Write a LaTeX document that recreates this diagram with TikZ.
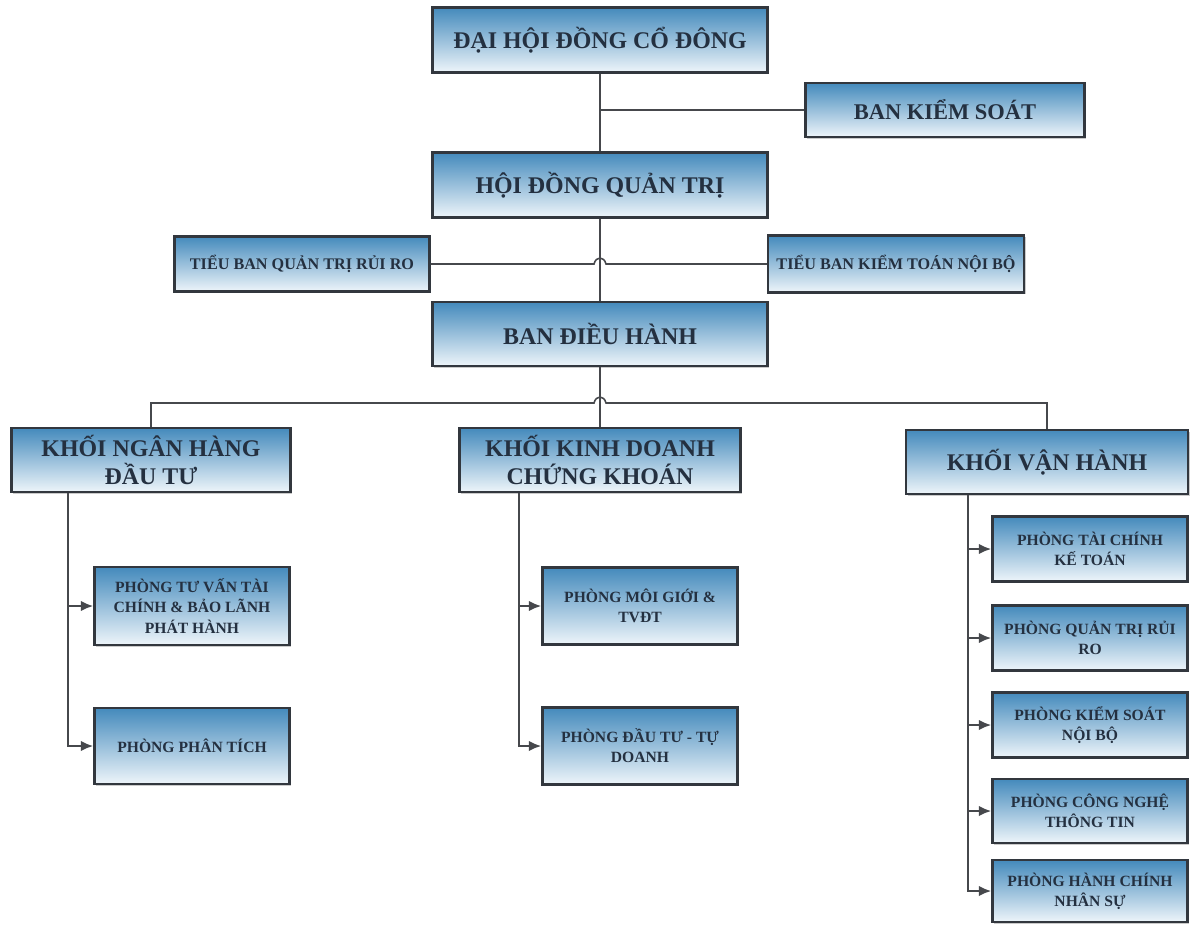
\documentclass[tikz,border=0pt]{standalone}
\usepackage{fontspec}
\setmainfont{Liberation Serif}
\usetikzlibrary{arrows.meta,shadows}
\definecolor{boxtop}{RGB}{68,138,188}
\definecolor{boxbot}{RGB}{238,245,250}
\definecolor{boxline}{RGB}{50,55,62}
\definecolor{boxtext}{RGB}{36,48,64}
\definecolor{conncol}{RGB}{70,72,76}
\begin{document}
\begin{tikzpicture}[x=0.02cm, y=-0.02cm]
% estilos
\tikzset{
  unit/.style={rectangle, draw=boxline, line width=1.4pt, top color=boxtop, bottom color=boxbot,
    text=boxtext, font=\bfseries, align=center, inner sep=2pt,
    drop shadow={shadow xshift=1pt, shadow yshift=-1pt, opacity=0.35, fill=black!60}},
  big/.style={unit, font=\fontsize{13.6}{16.2}\selectfont\bfseries},
  small/.style={unit, font=\fontsize{8.9}{11.4}\selectfont\bfseries, minimum width=3.9cm},
  link/.style={draw=conncol, line width=0.9pt},
  arr/.style={draw=conncol, line width=1.3pt, -{Latex[length=7pt, width=6pt]}}
}
\useasboundingbox (0,0) rectangle (1191,924);

\node[big, minimum width=6.7cm, minimum height=1.3cm] (dhd) at (600,40) {ĐẠI HỘI ĐỒNG CỔ ĐÔNG};
\node[big, minimum width=5.58cm, minimum height=1.08cm, font=\fontsize{12.8}{15}\selectfont\bfseries] (bks) at (945,110) {BAN KIỂM SOÁT};
\node[big, minimum width=6.7cm, minimum height=1.3cm] (hdqt) at (600,185) {HỘI ĐỒNG QUẢN TRỊ};
\node[unit, minimum width=5.1cm, minimum height=1.1cm, font=\fontsize{9.2}{11}\selectfont\bfseries] (tbqt) at (302,264) {TIỂU BAN QUẢN TRỊ RỦI RO};
\node[unit, minimum width=5.12cm, minimum height=1.14cm, font=\fontsize{9.2}{11}\selectfont\bfseries] (tbkt) at (896,264) {TIỂU BAN KIỂM TOÁN NỘI BỘ};
\node[big, minimum width=6.7cm, minimum height=1.28cm] (bdh) at (600,334) {BAN ĐIỀU HÀNH};

\node[big, minimum width=5.58cm, minimum height=1.28cm] (knh) at (151,460) {KHỐI NGÂN HÀNG\\ĐẦU TƯ};
\node[big, minimum width=5.62cm, minimum height=1.28cm] (kkd) at (600,460) {KHỐI KINH DOANH\\CHỨNG KHOÁN};
\node[big, minimum width=5.64cm, minimum height=1.28cm] (kvh) at (1047,462) {KHỐI VẬN HÀNH};

\node[small, minimum height=1.56cm] (ptv) at (192,606) {PHÒNG TƯ VẤN TÀI\\CHÍNH \& BẢO LÃNH\\PHÁT HÀNH};
\node[small, minimum height=1.52cm] (ppt) at (192,746) {PHÒNG PHÂN TÍCH};
\node[small, minimum height=1.54cm] (pmg) at (640,606) {PHÒNG MÔI GIỚI \&\\TVĐT};
\node[small, minimum height=1.54cm] (pdt) at (640,746) {PHÒNG ĐẦU TƯ - TỰ\\DOANH};

\node[small, minimum height=1.3cm] (ptc) at (1090,549) {PHÒNG TÀI CHÍNH\\KẾ TOÁN};
\node[small, minimum height=1.3cm] (pqt) at (1090,638) {PHÒNG QUẢN TRỊ RỦI\\RO};
\node[small, minimum height=1.3cm] (pks) at (1090,725) {PHÒNG KIỂM SOÁT\\NỘI BỘ};
\node[small, minimum height=1.28cm] (pcn) at (1090,811) {PHÒNG CÔNG NGHỆ\\THÔNG TIN};
\node[small, minimum height=1.24cm] (phc) at (1090,891) {PHÒNG HÀNH CHÍNH\\NHÂN SỰ};

\coordinate (ta) at (68,746);
\coordinate (tb) at (519,746);
\coordinate (tc) at (968,891);

% tren
\draw[link] (dhd) -- (hdqt);
\draw[link] (dhd.south |- bks) -- (bks.west);
\draw[link] (hdqt) -- (bdh);
\draw[link] (tbqt.east) -- (594,264) .. controls (596,256) and (604,256) .. (606,264) -- (tbkt.west);
\draw[link] (bdh) -- (kkd);
\draw[link] (knh.north) |- (594,403) .. controls (596,395) and (604,395) .. (606,403) -| (kvh.north);

% khoi
\draw[arr] (knh.south -| ta) |- (ppt.west);
\draw[arr] (ta |- ptv.west) -- (ptv.west);
\draw[arr] (kkd.south -| tb) |- (pdt.west);
\draw[arr] (tb |- pmg.west) -- (pmg.west);
\draw[arr] (kvh.south -| tc) |- (phc.west);
\foreach \n in {ptc,pqt,pks,pcn}
  \draw[arr] (tc |- \n.west) -- (\n.west);
\end{tikzpicture}
\end{document}
